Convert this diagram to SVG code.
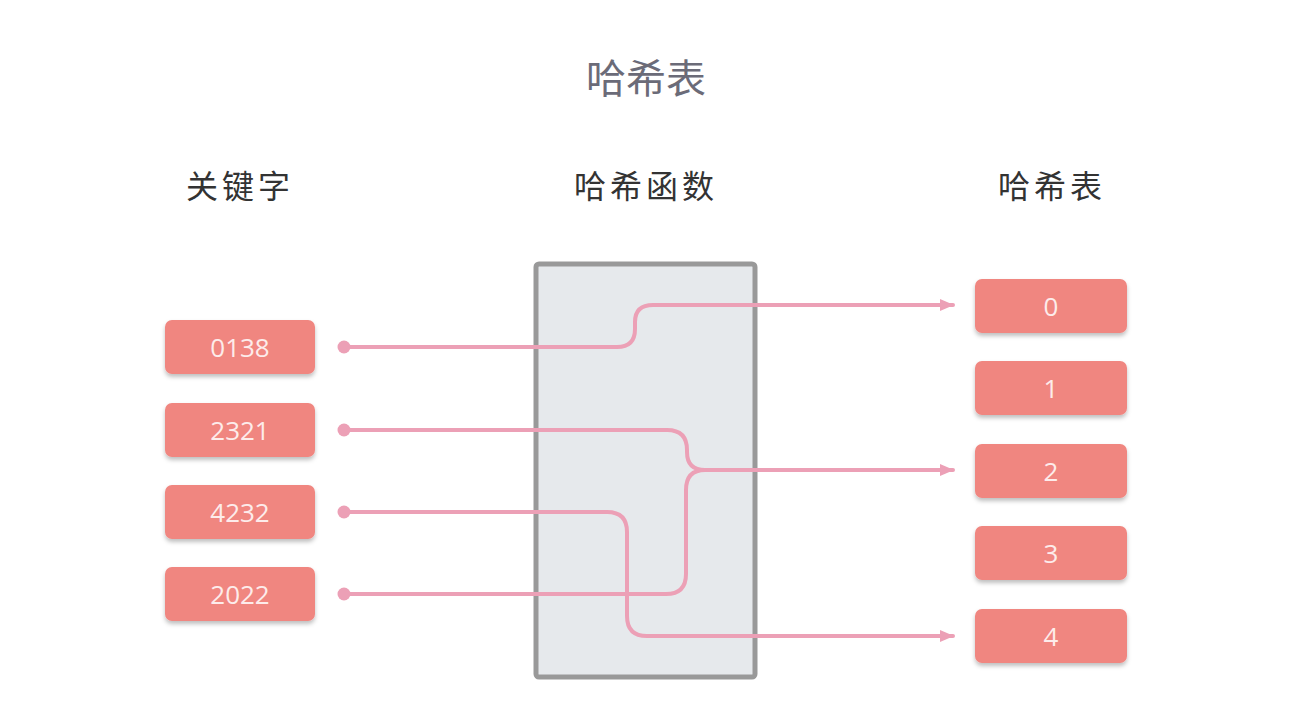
<svg xmlns="http://www.w3.org/2000/svg" width="1314" height="726" viewBox="0 0 1314 726">
<defs>
<filter id="sh" x="-10%" y="-10%" width="120%" height="140%">
<feDropShadow dx="0" dy="3" stdDeviation="2" flood-color="#000" flood-opacity="0.25"/>
</filter>
<marker id="arr" markerWidth="14" markerHeight="12" refX="13" refY="6" orient="auto" markerUnits="userSpaceOnUse">
<path d="M0,0 L14,6 L0,12 Z" fill="#eca0b6"/>
</marker>
<marker id="dot" markerWidth="14" markerHeight="14" refX="7" refY="7" markerUnits="userSpaceOnUse">
<circle cx="7" cy="7" r="6.5" fill="#eca0b6"/>
</marker>
</defs>
<style>
.cjk{font-family:"Noto Sans CJK SC","Liberation Sans",sans-serif;}
.hdr{font-size:32px;fill:#333;text-anchor:middle;letter-spacing:4px;}
.ttl{font-size:40px;fill:#6b6b78;text-anchor:middle;}
.box{fill:#f08680;filter:url(#sh);}
.lbl{font-family:"Open Sans","Liberation Sans",sans-serif;font-size:26px;fill:#fdeceb;text-anchor:middle;}
.ln{fill:none;stroke:#eca0b6;stroke-width:4;stroke-linecap:round;stroke-linejoin:round;}
</style>
<rect width="1314" height="726" fill="#fff"/>
<text class="cjk ttl" x="646" y="93">哈希表</text>
<text class="cjk hdr" x="240" y="198">关键字</text>
<text class="cjk hdr" x="646" y="198">哈希函数</text>
<text class="cjk hdr" x="1052" y="198">哈希表</text>
<g id="hashfn">
<rect x="536" y="264" width="219" height="413" rx="3" fill="#e6e9ec" stroke="#999" stroke-width="5"/>
</g>
<g id="connectors">
<path class="ln" marker-start="url(#dot)" marker-end="url(#arr)" d="M344,347 H617 Q635,347 635,329 V322 Q635,305 653,305 H953"/>
<path class="ln" marker-start="url(#dot)" marker-end="url(#arr)" d="M344,430 H667 Q687,430 687,450 V452 Q687,470 705,470 H953"/>
<path class="ln" marker-start="url(#dot)" d="M344,594 H666 Q686,594 686,574 V490 Q686,470 705,470"/>
<path class="ln" marker-start="url(#dot)" marker-end="url(#arr)" d="M344,512 H607 Q627,512 627,532 V616 Q627,636 647,636 H953"/>
</g>
<g id="k0138"><rect class="box" x="165" y="320" width="150" height="54" rx="7"/><text class="lbl" x="240" y="357">0138</text></g>
<g id="k2321"><rect class="box" x="165" y="403" width="150" height="54" rx="7"/><text class="lbl" x="240" y="440">2321</text></g>
<g id="k4232"><rect class="box" x="165" y="485" width="150" height="54" rx="7"/><text class="lbl" x="240" y="522">4232</text></g>
<g id="k2022"><rect class="box" x="165" y="567" width="150" height="54" rx="7"/><text class="lbl" x="240" y="604">2022</text></g>
<g id="h0"><rect class="box" x="975" y="279" width="152" height="54" rx="7"/><text class="lbl" x="1051" y="316">0</text></g>
<g id="h1"><rect class="box" x="975" y="361" width="152" height="54" rx="7"/><text class="lbl" x="1051" y="398">1</text></g>
<g id="h2"><rect class="box" x="975" y="444" width="152" height="54" rx="7"/><text class="lbl" x="1051" y="481">2</text></g>
<g id="h3"><rect class="box" x="975" y="526" width="152" height="54" rx="7"/><text class="lbl" x="1051" y="563">3</text></g>
<g id="h4"><rect class="box" x="975" y="609" width="152" height="54" rx="7"/><text class="lbl" x="1051" y="646">4</text></g>
</svg>
